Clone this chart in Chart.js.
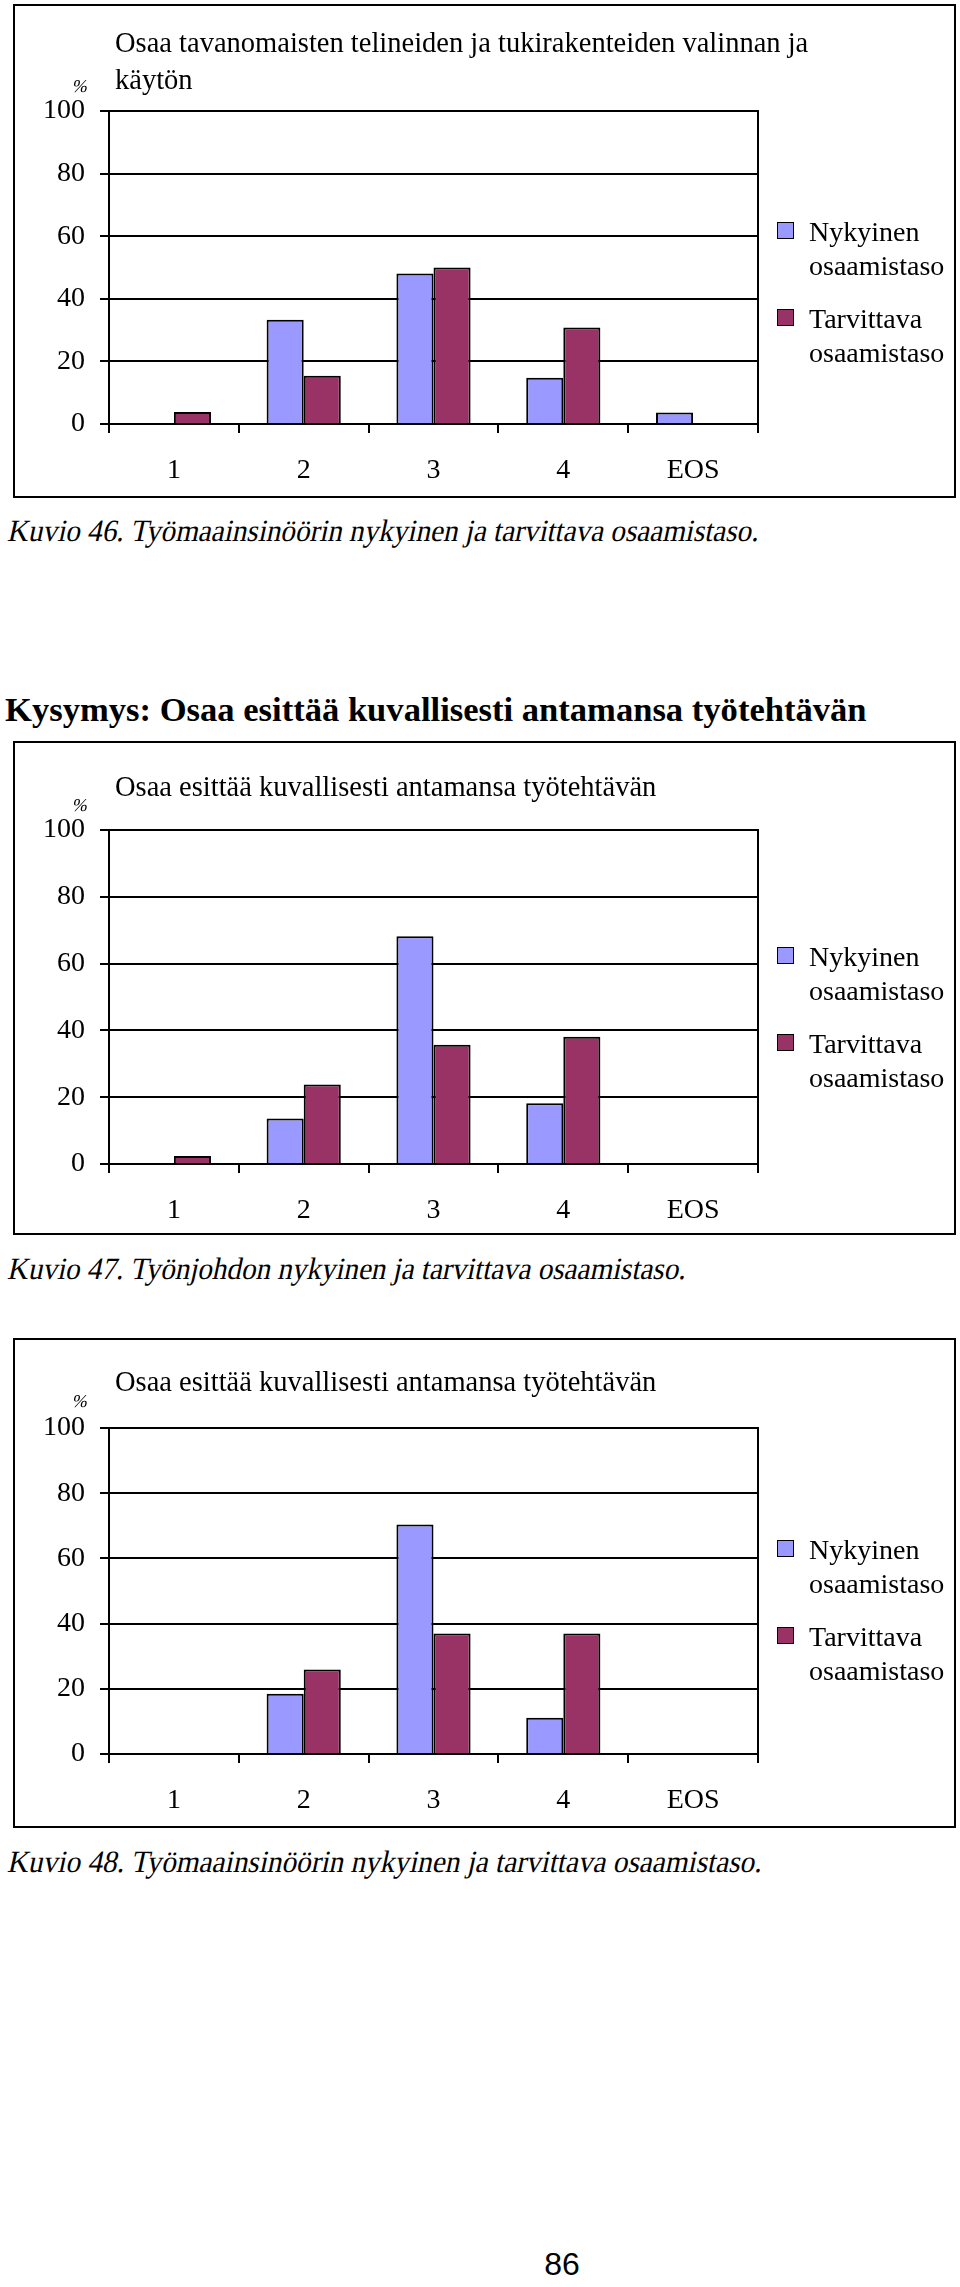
<!DOCTYPE html>
<html>
<head>
<meta charset="utf-8">
<script src="https://cdn.jsdelivr.net/npm/chart.js@4/dist/chart.umd.min.js"></script>
<style>
  html, body { margin: 0; padding: 0; background: #fff; }
  body { width: 960px; height: 2287px; position: relative; overflow: hidden; font-family: 'Liberation Serif', serif; color: #000; }
  .box { position: absolute; border: 2px solid #000; box-sizing: border-box; }
  canvas { position: absolute; }
  .t { position: absolute; white-space: nowrap; line-height: 1; transform: translateY(-50%); transform-origin: 0 50%; }
  .sw { position: absolute; width: 17px; height: 17px; border: 1.5px solid #000; box-sizing: border-box; }
</style>
</head>
<body>
<script>
const categories = ['1', '2', '3', '4', 'EOS'];
const seriesNames = [['Nykyinen', 'osaamistaso'], ['Tarvittava', 'osaamistaso']];

// Kuvio 46
const nykyinen46 = [0, 33.3, 48.1, 14.8, 3.7];
const tarvittava46 = [3.8, 15.4, 50.0, 30.8, 0];
// Kuvio 47
const nykyinen47 = [0, 13.6, 68.2, 18.2, 0];
const tarvittava47 = [2.4, 23.8, 35.7, 38.1, 0];
// Kuvio 48
const nykyinen48 = [0, 18.5, 70.4, 11.1, 0];
const tarvittava48 = [0, 25.9, 37.0, 37.0, 0];

const titles = [
    ['Osaa tavanomaisten telineiden ja tukirakenteiden valinnan ja', 'käytön'],
    ['Osaa esittää kuvallisesti antamansa työtehtävän'],
    ['Osaa esittää kuvallisesti antamansa työtehtävän'],
];
const captions = [
    'Kuvio 46. Työmaainsinöörin nykyinen ja tarvittava osaamistaso.',
    'Kuvio 47. Työnjohdon nykyinen ja tarvittava osaamistaso.',
    'Kuvio 48. Työmaainsinöörin nykyinen ja tarvittava osaamistaso.',
];
const heading = 'Kysymys: Osaa esittää kuvallisesti antamansa työtehtävän';
const pageNumber = '86';

const colors = { nykyinen: '#9999ff', tarvittava: '#993366', ink: '#000' };

// page layout (px)
const Y_W = 70, X_H = 66;
const layouts = [
    { box: [13, 4, 943, 494], plot: [109, 111, 758, 424], title: 43, pct: 86, legend: 232, caption: 530, capW: 752 },
    { box: [13, 741, 943, 494], plot: [109, 830, 758, 1164], title: 787, pct: 805, legend: 957, caption: 1268, capW: 679 },
    { box: [13, 1338, 943, 490], plot: [109, 1428, 758, 1754], title: 1382, pct: 1401, legend: 1550, caption: 1861, capW: 755 },
];
const datasets = [
    [nykyinen46, tarvittava46],
    [nykyinen47, tarvittava47],
    [nykyinen48, tarvittava48],
];

const measureCtx = document.createElement('canvas').getContext('2d');

function addText(text, x, y, css) {
    const el = document.createElement('div');
    el.className = 't';
    el.textContent = text;
    el.style.left = x + 'px';
    el.style.top = y + 'px';
    Object.assign(el.style, css || {});
    document.body.appendChild(el);
    return el;
}

// fake italic: skewed Liberation Serif, narrowed so the line spans the given width
function addItalic(text, x, y, width, size) {
    measureCtx.font = size + "px 'Liberation Serif'";
    const k = width / measureCtx.measureText(text).width;
    return addText(text, x, y, { fontSize: size + 'px', transform: `translateY(-50%) scaleX(${k.toFixed(4)}) skewX(-13deg)` });
}

const plotFrame = {
    id: 'plotFrame',
    afterDraw(chart) {
        const { ctx, chartArea } = chart;
        ctx.save();
        ctx.strokeStyle = colors.ink;
        ctx.lineWidth = 2;
        ctx.beginPath();
        ctx.moveTo(chartArea.right, chartArea.top - 1);
        ctx.lineTo(chartArea.right, chartArea.bottom);
        ctx.stroke();
        ctx.restore();
    },
};

function buildChart(i) {
    const L = layouts[i];
    const [bx, by, bw, bh] = L.box;
    const [pl, pt, pr, pb] = L.plot;

    const box = document.createElement('div');
    box.className = 'box';
    Object.assign(box.style, { left: bx + 'px', top: by + 'px', width: bw + 'px', height: bh + 'px' });
    document.body.appendChild(box);

    const canvas = document.createElement('canvas');
    canvas.width = bw;
    canvas.height = bh;
    Object.assign(canvas.style, { left: bx + 'px', top: by + 'px', width: bw + 'px', height: bh + 'px' });
    document.body.appendChild(canvas);

    const font = { family: 'Liberation Serif', size: 28 };
    const [nyk, tar] = datasets[i];

    new Chart(canvas, {
        type: 'bar',
        data: {
            labels: categories,
            datasets: [
                { label: seriesNames[0].join(' '), data: nyk, backgroundColor: colors.nykyinen, borderColor: colors.ink, borderWidth: 2, borderSkipped: 'bottom' },
                { label: seriesNames[1].join(' '), data: tar, backgroundColor: colors.tarvittava, borderColor: colors.ink, borderWidth: 2, borderSkipped: 'bottom' },
            ],
        },
        options: {
            responsive: false,
            animation: false,
            devicePixelRatio: 1,
            categoryPercentage: 2 / 3.5,
            barPercentage: 1,
            layout: {
                padding: {
                    left: pl - bx - Y_W,
                    top: pt - by,
                    right: bx + bw - pr,
                    bottom: by + bh - pb - X_H,
                },
            },
            plugins: { legend: { display: false }, title: { display: false }, tooltip: { enabled: false } },
            scales: {
                x: {
                    afterFit: (s) => { s.height = X_H; },
                    grid: { drawOnChartArea: false, drawTicks: true, tickLength: 9, color: colors.ink, lineWidth: 2, offset: true },
                    border: { display: true, color: colors.ink, width: 2 },
                    ticks: { font, color: colors.ink, padding: 21, maxRotation: 0 },
                },
                y: {
                    min: 0,
                    max: 100,
                    afterFit: (s) => { s.width = Y_W; },
                    grid: { drawTicks: true, tickLength: 9, color: colors.ink, lineWidth: 2 },
                    border: { display: true, color: colors.ink, width: 2 },
                    ticks: { stepSize: 20, font, color: colors.ink, padding: 15 },
                },
            },
        },
        plugins: [plotFrame],
    });

    // title, % label, legend, caption
    titles[i].forEach((line, k) => addText(line, 115, L.title + k * 37, { fontSize: '28.5px' }));
    addText('%', 73, L.pct, { fontSize: '18px', transform: 'translateY(-50%) skewX(-13deg)' });

    const legendOffsets = [[0, 34], [87, 121]];
    [colors.nykyinen, colors.tarvittava].forEach((c, s) => {
        const y0 = L.legend + legendOffsets[s][0];
        const sw = document.createElement('div');
        sw.className = 'sw';
        Object.assign(sw.style, { left: '777px', top: (y0 - 10) + 'px', background: c });
        document.body.appendChild(sw);
        seriesNames[s].forEach((line, k) => addText(line, 809, L.legend + legendOffsets[s][k], { fontSize: '28px' }));
    });

    addItalic(captions[i], 9, L.caption, L.capW, 31);
}

addText(heading, 5, 709, { fontSize: '34.6px', fontWeight: 'bold' });
[0, 1, 2].forEach(buildChart);
addText(pageNumber, 562, 2264, { fontSize: '32px', fontFamily: "'Liberation Sans', sans-serif", transform: 'translate(-50%, -50%)' });
</script>
</body>
</html>
